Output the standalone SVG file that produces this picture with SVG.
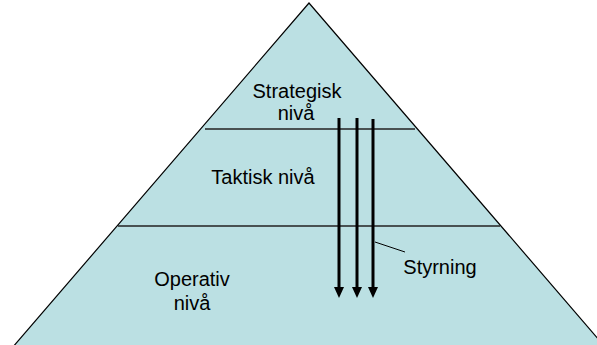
<svg xmlns="http://www.w3.org/2000/svg" width="597" height="345" viewBox="0 0 597 345">
<style>
.lbl{font-family:"Liberation Sans",Arial,sans-serif;font-size:20px;fill:#000;text-anchor:middle}
.sep{stroke:#222;stroke-width:1.3;fill:none}
.arr{stroke:#000;stroke-width:3;fill:none}
.head{fill:#000}
</style>
<rect width="597" height="345" fill="#fff"/>
<g id="pyramid">
<polygon points="309,3 6,355 612,355" fill="#BBE0E3" stroke="#000" stroke-width="1.2"/>
</g>
<g id="separators">
<line class="sep" x1="205" y1="129" x2="415" y2="129"/>
<line class="sep" x1="118" y1="226" x2="500" y2="226"/>
</g>
<g id="strategisk">
<text class="lbl" x="297" y="98">Strategisk</text>
<text class="lbl" x="296" y="120">nivå</text>
</g>
<g id="taktisk">
<text class="lbl" x="263" y="184">Taktisk nivå</text>
</g>
<g id="operativ">
<text class="lbl" x="192" y="286">Operativ</text>
<text class="lbl" x="192" y="310">nivå</text>
</g>
<g id="connectors">
<line class="arr" x1="339" y1="118" x2="339" y2="288"/>
<polygon class="head" points="334,287 344,287 339,298"/>
<line class="arr" x1="357" y1="118" x2="357" y2="288"/>
<polygon class="head" points="352,287 362,287 357,298"/>
<line class="arr" x1="373" y1="119" x2="373" y2="288"/>
<polygon class="head" points="368,287 378,287 373,298"/>
<line x1="375" y1="242" x2="405" y2="252" stroke="#000" stroke-width="1"/>
</g>
<g id="styrning">
<text class="lbl" x="440" y="274">Styrning</text>
</g>
</svg>
